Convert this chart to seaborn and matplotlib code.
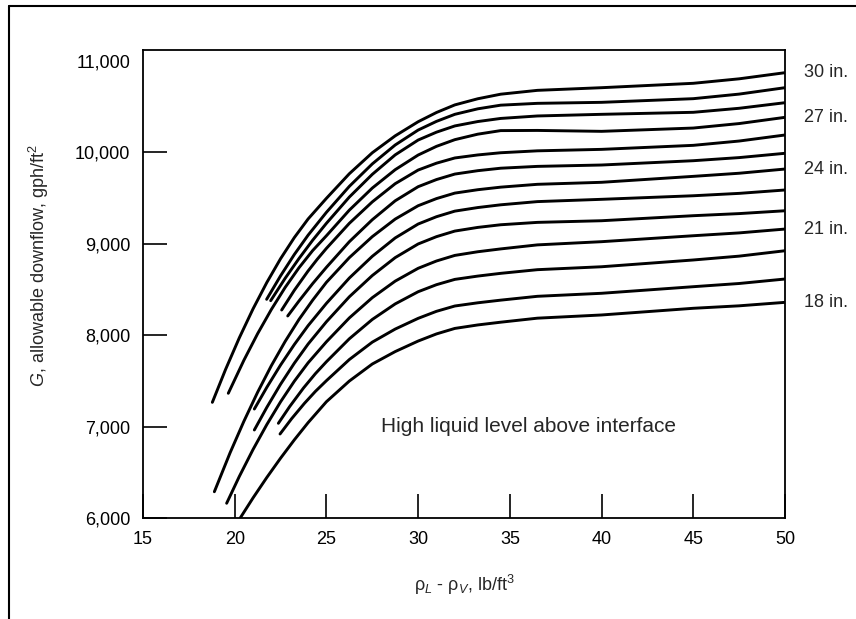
import numpy as np
import pandas as pd
import matplotlib
matplotlib.use("Agg")
import matplotlib.pyplot as plt
import seaborn as sns
from matplotlib.lines import Line2D

# Tray spacing curves (x = rho_L - rho_V, y = G)
spacing = [30, 29, 28, 27, 26, 25, 24, 23, 22, 21, 20, 19, 18]
labelled = [30, 27, 24, 21, 18]

rho_30 = [18.78, 19.5, 20.25, 21, 21.75, 22.5, 23.25, 24, 25, 26.25, 27.5, 28.75, 30, 31, 32, 33.25, 34.5, 36.5, 40, 45, 47.5, 50]
g_30 = [7264, 7623, 7969, 8286, 8574, 8834, 9065, 9268, 9494, 9763, 9992, 10177, 10331, 10432, 10515, 10582, 10632, 10674, 10703, 10751, 10800, 10867]
rho_29 = [21.74, 22.5, 23.25, 24, 25, 26.25, 27.5, 28.75, 30, 31, 32, 33.25, 34.5, 36.5, 40, 45, 47.5, 50]
g_29 = [8390, 8647, 8880, 9091, 9341, 9625, 9870, 10077, 10240, 10335, 10412, 10472, 10512, 10532, 10543, 10583, 10633, 10703]
rho_28 = [21.96, 22.75, 23.5, 24.25, 25, 26.25, 27.5, 28.75, 30, 31, 32, 33.25, 34.5, 36.5, 40, 45, 47.5, 50]
g_28 = [8375, 8620, 8835, 9036, 9221, 9508, 9756, 9969, 10131, 10217, 10285, 10333, 10367, 10394, 10412, 10434, 10478, 10539]
rho_27 = [19.65, 20.5, 21.25, 22, 22.75, 23.5, 24.25, 25, 26.25, 27.5, 28.75, 30, 31, 32, 33.25, 34.5, 36.5, 40, 45, 47.5, 50]
g_27 = [7363, 7724, 8015, 8280, 8520, 8734, 8923, 9085, 9365, 9606, 9807, 9967, 10062, 10135, 10195, 10234, 10236, 10226, 10262, 10311, 10379]
rho_26 = [22.56, 23.25, 24, 24.5, 25, 26.25, 27.5, 28.75, 30, 31, 32, 33.25, 34.5, 36.5, 40, 45, 47.5, 50]
g_26 = [8273, 8489, 8700, 8828, 8947, 9221, 9455, 9654, 9803, 9878, 9935, 9968, 9992, 10013, 10029, 10073, 10120, 10186]
rho_25 = [22.89, 23.5, 24.25, 25, 26.25, 27.5, 28.75, 30, 31, 32, 33.25, 34.5, 36.5, 40, 45, 47.5, 50]
g_25 = [8208, 8371, 8562, 8740, 9020, 9260, 9467, 9621, 9699, 9759, 9796, 9823, 9843, 9858, 9905, 9939, 9986]
rho_24 = [18.89, 19.75, 20.5, 21.25, 22, 22.75, 23.5, 24.25, 25, 26.25, 27.5, 28.75, 30, 31, 32, 33.25, 34.5, 36.5, 40, 45, 47.5, 50]
g_24 = [6287, 6714, 7057, 7375, 7666, 7930, 8169, 8381, 8576, 8846, 9075, 9267, 9413, 9491, 9551, 9588, 9616, 9647, 9669, 9734, 9768, 9814]
rho_23 = [21.07, 21.75, 22.5, 23.25, 24, 25, 26.25, 27.5, 28.75, 30, 31, 32, 33.25, 34.5, 36.5, 40, 45, 47.5, 50]
g_23 = [7191, 7428, 7672, 7896, 8102, 8346, 8623, 8860, 9061, 9213, 9293, 9354, 9393, 9423, 9458, 9483, 9522, 9548, 9585]
rho_22 = [21.07, 21.75, 22.5, 23.25, 24, 25, 26.25, 27.5, 28.75, 30, 31, 32, 33.25, 34.5, 36.5, 40, 45, 47.5, 50]
g_22 = [6962, 7209, 7462, 7692, 7901, 8145, 8418, 8650, 8846, 8995, 9075, 9136, 9176, 9205, 9231, 9249, 9304, 9327, 9358]
rho_21 = [19.56, 20.25, 21, 21.75, 22.5, 23.25, 24, 25, 26.25, 27.5, 28.75, 30, 31, 32, 33.25, 34.5, 36.5, 40, 45, 47.5, 50]
g_21 = [6161, 6454, 6749, 7021, 7270, 7495, 7696, 7926, 8187, 8408, 8589, 8729, 8809, 8870, 8910, 8941, 8985, 9020, 9085, 9116, 9158]
rho_20 = [22.38, 23, 23.75, 24.4, 25, 26.25, 27.5, 28.75, 30, 31, 32, 33.25, 34.5, 36.5, 40, 45, 47.5, 50]
g_20 = [7035, 7219, 7421, 7578, 7708, 7959, 8170, 8340, 8473, 8550, 8608, 8644, 8674, 8714, 8746, 8820, 8862, 8921]
rho_19 = [22.47, 23.1, 23.8, 24.4, 25, 26.25, 27.5, 28.75, 30, 31, 32, 33.25, 34.5, 36.5, 40, 45, 47.5, 50]
g_19 = [6918, 7085, 7253, 7384, 7501, 7732, 7922, 8065, 8182, 8259, 8317, 8352, 8381, 8423, 8456, 8528, 8563, 8612]
rho_18 = [20.3, 21, 21.75, 22.5, 23.25, 24, 25, 26.25, 27.5, 28.75, 30, 31, 32, 33.25, 34.5, 36.5, 40, 45, 47.5, 50]
g_18 = [6000, 6220, 6443, 6654, 6854, 7042, 7271, 7497, 7683, 7819, 7934, 8012, 8072, 8110, 8140, 8184, 8219, 8292, 8319, 8357]

x_ticks = [15, 20, 25, 30, 35, 40, 45, 50]
y_ticks = [6000, 7000, 8000, 9000, 10000, 11000]

curves = {
    30: (rho_30, g_30), 29: (rho_29, g_29), 28: (rho_28, g_28),
    27: (rho_27, g_27), 26: (rho_26, g_26), 25: (rho_25, g_25),
    24: (rho_24, g_24), 23: (rho_23, g_23), 22: (rho_22, g_22),
    21: (rho_21, g_21), 20: (rho_20, g_20), 19: (rho_19, g_19),
    18: (rho_18, g_18),
}
df = pd.concat(
    [pd.DataFrame({"rho": curves[s][0], "G": curves[s][1], "spacing": s}) for s in spacing],
    ignore_index=True,
)

sns.set_theme(style="white")
plt.rcParams["font.family"] = ["Liberation Sans", "DejaVu Sans"]
plt.rcParams["mathtext.fontset"] = "custom"
plt.rcParams["mathtext.rm"] = "Liberation Sans"
plt.rcParams["mathtext.it"] = "Liberation Sans:italic"

fig = plt.figure(figsize=(8.56, 6.19), dpi=100)
ax = fig.add_axes([143 / 856, 1 - 518 / 619, (785 - 143) / 856, (518 - 50) / 619])

sns.lineplot(data=df, x="rho", y="G", hue="spacing", units="spacing", estimator=None,
             palette={s: "black" for s in spacing}, legend=False, linewidth=2.1,
             sort=False, ax=ax)

ax.set_xlim(15, 50)
ax.set_ylim(6000, 11115)
ax.set_xticks(x_ticks)
ax.set_yticks(y_ticks)
ax.set_yticklabels([f"{v:,}" for v in y_ticks])
ax.tick_params(axis="both", direction="in", length=17.5, width=1.2, colors="black",
               labelsize=13, bottom=True, left=True, top=False, right=False)
ax.tick_params(axis="x", pad=9)
ax.tick_params(axis="y", pad=9)
ax.yaxis.get_major_ticks()[-1].tick1line.set_visible(False)
for sp in ax.spines.values():
    sp.set_color("black")
    sp.set_linewidth(1.3)

ax.set_xlabel(r"ρ$_L$ - ρ$_V$, lb/ft$^3$", fontsize=13, labelpad=18)
ax.set_ylabel(r"$G$, allowable downflow, gph/ft$^2$", fontsize=13)
ax.yaxis.set_label_coords(-0.143, 0.54)

ax.text(36, 7000, "High liquid level above interface", fontsize=15, ha="center", va="center")

for s in labelled:
    ax.annotate(f"{s} in.", xy=(50, curves[s][1][-1]), xytext=(14, 0),
                textcoords="offset points", fontsize=13, ha="left", va="center",
                annotation_clip=False)

# scanned page border
fig.add_artist(Line2D([9 / 856, 1], [1 - 6 / 619, 1 - 6 / 619], color="black", lw=1.5))
fig.add_artist(Line2D([9 / 856, 9 / 856], [0, 1 - 6 / 619], color="black", lw=1.5))

fig.savefig("out.png", dpi=100, facecolor="white")
